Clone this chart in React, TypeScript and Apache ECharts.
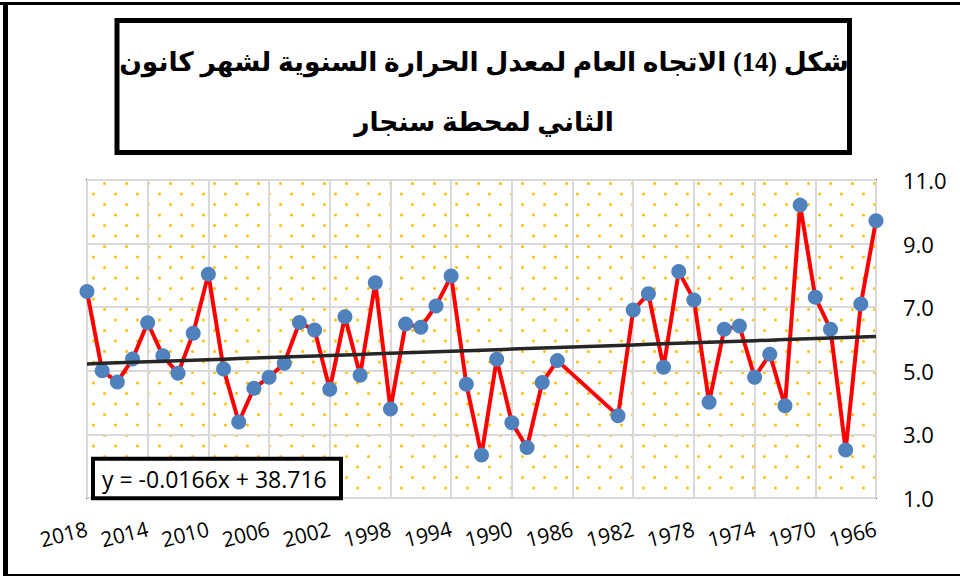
import React, { useEffect, useRef } from "react";
import * as echarts from "echarts";

const years = [
  "2018", "2017", "2016", "2015", "2014", "2013", "2012", "2011", "2010", "2009",
  "2008", "2007", "2006", "2005", "2004", "2003", "2002", "2001", "2000", "1999",
  "1998", "1997", "1996", "1995", "1994", "1993", "1992", "1991", "1990", "1989",
  "1988", "1987", "1986", "1985", "1984", "1983", "1982", "1981", "1980", "1979",
  "1978", "1977", "1976", "1975", "1974", "1973", "1972", "1971", "1970", "1969",
  "1968", "1967", "1966",
];

const temps: (number | null)[] = [
  7.49, 5.0, 4.65, 5.37, 6.51, 5.47, 4.92, 6.18, 8.04, 5.06,
  3.39, 4.45, 4.8, 5.24, 6.52, 6.28, 4.42, 6.7, 4.86, 7.77,
  3.8, 6.47, 6.37, 7.04, 7.98, 4.58, 2.35, 5.36, 3.37, 2.59,
  4.63, 5.32, null, null, null, 3.59, 6.91, 7.42, 5.11, 8.12,
  7.23, 4.01, 6.31, 6.41, 4.8, 5.52, 3.9, 10.21, 7.31, 6.31,
  2.51, 7.1, 9.72,
];

const trendSlope = -0.0166;
const trendIntercept = 38.716;

const yMin = 1;
const yMax = 11;
const yStep = 2;

const titleLine1 = "شكل (14) الاتجاه العام لمعدل الحرارة السنوية لشهر كانون";
const titleLine2 = "الثاني لمحطة سنجار";
const equationText = "y = -0.0166x + 38.716";

const dotSvg =
  '<svg xmlns="http://www.w3.org/2000/svg" width="22" height="21">' +
  '<circle cx="5.5" cy="5" r="1.5" fill="#FFC000"/>' +
  '<circle cx="16.5" cy="15.5" r="1.5" fill="#FFC000"/></svg>';
const dotUrl = "data:image/svg+xml;charset=utf-8," + encodeURIComponent(dotSvg);

export default function App() {
  const ref = useRef<HTMLDivElement>(null);

  useEffect(() => {
    if (!ref.current) return;
    const chart = echarts.init(ref.current, null, { renderer: "svg" });
    const trend = years.map((y) => trendSlope * Number(y) + trendIntercept);
    const labelFont = "'Open Sans', 'Noto Sans', sans-serif";
    const titleFont = "'Liberation Serif', 'DejaVu Sans', serif";

    chart.setOption({
      animation: false,
      backgroundColor: "#ffffff",
      grid: {
        left: 87,
        right: 84,
        top: 180,
        bottom: 79,
        show: true,
        backgroundColor: {
          image: dotUrl,
          repeat: "repeat",
          imageWidth: 22,
          imageHeight: 21,
        },
        borderColor: "#7030A0",
        borderWidth: 2,
      },
      xAxis: {
        type: "category",
        data: years,
        boundaryGap: false,
        axisLine: { show: false },
        axisTick: { show: false },
        axisLabel: {
          interval: 3,
          rotate: 14,
          fontSize: 21,
          color: "#000",
          fontFamily: labelFont,
          margin: 30,
        },
        splitLine: {
          show: true,
          interval: 3,
          lineStyle: { color: "#D9D9D9", width: 2 },
        },
      },
      yAxis: {
        type: "value",
        position: "right",
        min: yMin,
        max: yMax,
        interval: yStep,
        axisLine: { show: false },
        axisTick: { show: false },
        axisLabel: {
          formatter: (v: number) => v.toFixed(1),
          fontSize: 22,
          color: "#000",
          fontFamily: labelFont,
          margin: 27,
          align: "left",
        },
        splitLine: { lineStyle: { color: "#D9D9D9", width: 2 } },
      },
      series: [
        {
          type: "line",
          data: temps,
          connectNulls: true,
          symbol: "circle",
          symbolSize: 15,
          showSymbol: true,
          showAllSymbol: true,
          lineStyle: { color: "#FF0000", width: 4 },
          itemStyle: { color: "#4F81BD" },
          z: 3,
        },
        {
          type: "line",
          data: trend,
          symbol: "none",
          silent: true,
          lineStyle: { color: "#262626", width: 3.5 },
          z: 4,
        },
      ],
      graphic: [
        { type: "rect", shape: { x: 0, y: 2, width: 960, height: 3 }, style: { fill: "#000" }, z: 10 },
        { type: "rect", shape: { x: 3, y: 2, width: 5, height: 574 }, style: { fill: "#000" }, z: 10 },
        { type: "rect", shape: { x: 3, y: 574, width: 957, height: 2 }, style: { fill: "#000" }, z: 10 },
        {
          type: "rect",
          shape: { x: 117, y: 20.5, width: 732.5, height: 132 },
          style: { fill: "#fff", stroke: "#000", lineWidth: 5 },
          z: 10,
        },
        {
          type: "text",
          x: 484,
          y: 62,
          style: {
            text: titleLine1,
            fontSize: 26.5,
            fontWeight: "bold",
            fontFamily: titleFont,
            fill: "#000",
            align: "center",
            verticalAlign: "middle",
            textAlign: "center",
            textVerticalAlign: "middle",
          },
          z: 11,
        },
        {
          type: "text",
          x: 484,
          y: 122,
          style: {
            text: titleLine2,
            fontSize: 26.5,
            fontWeight: "bold",
            fontFamily: titleFont,
            fill: "#000",
            align: "center",
            verticalAlign: "middle",
            textAlign: "center",
            textVerticalAlign: "middle",
          },
          z: 11,
        },
        {
          type: "rect",
          shape: { x: 93, y: 458.7, width: 248, height: 39.5 },
          style: { fill: "#fff", stroke: "#000", lineWidth: 4 },
          z: 10,
        },
        {
          type: "text",
          x: 102,
          y: 479,
          style: {
            text: equationText,
            fontSize: 23,
            fontFamily: labelFont,
            fill: "#000",
            align: "left",
            verticalAlign: "middle",
            textAlign: "left",
            textVerticalAlign: "middle",
          },
          z: 11,
        },
      ],
    });

    return () => chart.dispose();
  }, []);

  return (
    <div
      ref={ref}
      style={{ position: "fixed", left: 0, top: 0, width: 960, height: 577 }}
    />
  );
}
